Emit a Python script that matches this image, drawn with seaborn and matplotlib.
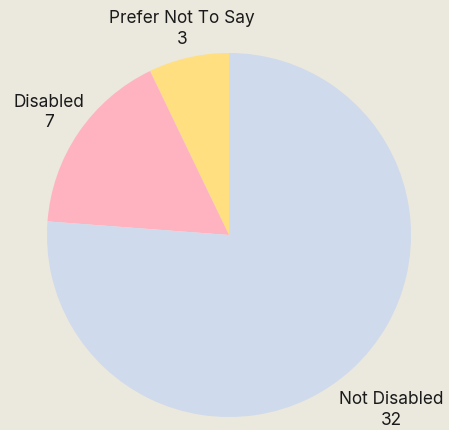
import numpy as np
import matplotlib
matplotlib.use("Agg")
import matplotlib.pyplot as plt
import seaborn as sns

# Survey responses: disability status
categories = ["Prefer Not To Say", "Disabled", "Not Disabled"]
counts = [3, 7, 32]
slice_colors = ["#ffdf80", "#ffb3c1", "#cfdaec"]

BG = "#ebe8dd"
sns.set_theme(style="white", rc={"figure.facecolor": BG, "axes.facecolor": BG})
plt.rcParams["font.family"] = ["Inter", "DejaVu Sans"]

palette = sns.color_palette(slice_colors)

W, H, DPI = 449, 430, 100
fig = plt.figure(figsize=(W / DPI, H / DPI), dpi=DPI)
ax = fig.add_axes([0, 0, 1, 1])

wedges, _ = ax.pie(
    counts,
    colors=palette,
    startangle=90,
    counterclock=True,
    radius=1.0,
    wedgeprops=dict(linewidth=0),
)

# pie centre sits at (229, 235) px with a 182 px radius
cx, cy, r = 229, 235, 182
ax.set_xlim(-cx / r, (W - cx) / r)
ax.set_ylim(-(H - cy) / r, cy / r)
ax.set_aspect("auto")
ax.axis("off")

# radial distance of each label centre, in pie radii
label_dist = [1.16, 1.195, 1.31]
for w, name, n, d in zip(wedges, categories, counts, label_dist):
    mid = np.deg2rad((w.theta1 + w.theta2) / 2)
    ax.text(d * np.cos(mid), d * np.sin(mid), f"{name}\n{n}",
            ha="center", va="center", fontsize=12.4, color="#1a1a1a",
            linespacing=1.28)

fig.savefig("out.png", dpi=DPI, facecolor=BG)
